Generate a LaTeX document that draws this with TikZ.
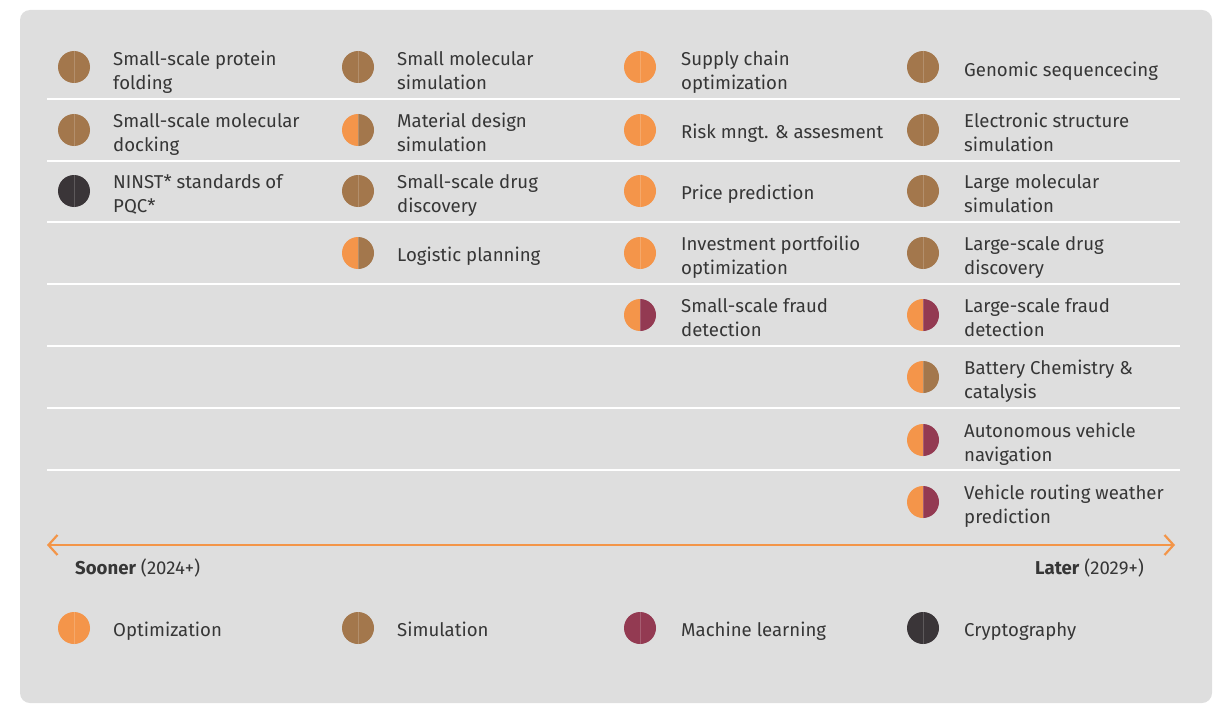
\documentclass[tikz,border=0pt]{standalone}
\usepackage{fontspec}
\setmainfont{Fira Sans}
\usetikzlibrary{arrows.meta}
\definecolor{bgc}{HTML}{DEDEDE}
\definecolor{opt}{HTML}{F4954A}
\definecolor{sim}{HTML}{A3774C}
\definecolor{ml}{HTML}{933A52}
\definecolor{cry}{HTML}{3A3538}
\definecolor{txt}{HTML}{363636}
\definecolor{arr}{HTML}{F39548}
\newcommand\qdot[4]{%
  \fill[#3] (#1,#2) -- ++(90:16pt) arc[start angle=90,end angle=270,radius=16pt] -- cycle;
  \fill[#4] (#1,#2) -- ++(90:16pt) arc[start angle=90,end angle=-90,radius=16pt] -- cycle;
  \draw[white,opacity=0.18,line width=0.7pt] (#1,#2) ++(0,-16) -- ++(0,32);
}
\newcommand\two[2]{\strut #1\\#2\strut}
\newcommand\one[1]{\strut #1}
\tikzset{
  item/.style={anchor=west,align=left,inner sep=0pt,text=txt,yshift=-2.3pt,font=\fontsize{18.6}{24}\selectfont},
  sep/.style={white,line width=2.2pt},
}
\begin{document}
\begin{tikzpicture}[x=1pt,y=-1pt]
\useasboundingbox (0,0) rectangle (1220,706);
\fill[bgc,rounded corners=10pt] (20,10) rectangle (1212,703);
\foreach \y in {99,161,222,284,346,408,470} \draw[sep] (47,\y) -- (1180,\y);
% column 1
\qdot{74}{67}{sim}{sim}
\node[item] (a1) at (113,70) {\two{Small-scale protein}{folding}};
\qdot{74}{130}{sim}{sim}
\node[item] (a2) at (113,132) {\two{Small-scale molecular}{docking}};
\qdot{74}{191}{cry}{cry}
\node[item] (a3) at (113,193) {\two{NINST* standards of}{PQC*}};
% column 2
\qdot{358}{67}{sim}{sim}
\node[item] (b1) at (397,70) {\two{Small molecular}{simulation}};
\qdot{358}{130}{opt}{sim}
\node[item] (b2) at (397,132) {\two{Material design}{simulation}};
\qdot{358}{191}{sim}{sim}
\node[item] (b3) at (397,193) {\two{Small-scale drug}{discovery}};
\qdot{358}{253}{opt}{sim}
\node[item] (b4) at (397,254) {\one{Logistic planning}};
% column 3
\qdot{640}{67}{opt}{opt}
\node[item] (c1) at (681,70) {\two{Supply chain}{optimization}};
\qdot{640}{130}{opt}{opt}
\node[item] (c2) at (681,131) {\one{Risk mngt. \& assesment}};
\qdot{640}{191}{opt}{opt}
\node[item] (c3) at (681,192) {\one{Price prediction}};
\qdot{640}{253}{opt}{opt}
\node[item] (c4) at (681,255) {\two{Investment portfoilio}{optimization}};
\qdot{640}{315}{opt}{ml}
\node[item] (c5) at (681,317) {\two{Small-scale fraud}{detection}};
% column 4
\qdot{923}{67}{sim}{sim}
\node[item] (d1) at (964,69) {\one{Genomic sequencecing}};
\qdot{923}{130}{sim}{sim}
\node[item] (d2) at (964,132) {\two{Electronic structure}{simulation}};
\qdot{923}{191}{sim}{sim}
\node[item] (d3) at (964,193) {\two{Large molecular}{simulation}};
\qdot{923}{253}{sim}{sim}
\node[item] (d4) at (964,255) {\two{Large-scale drug}{discovery}};
\qdot{923}{315}{opt}{ml}
\node[item] (d5) at (964,317) {\two{Large-scale fraud}{detection}};
\qdot{923}{377}{opt}{sim}
\node[item] (d6) at (964,379) {\two{Battery Chemistry \&}{catalysis}};
\qdot{923}{440}{opt}{ml}
\node[item] (d7) at (964,442) {\two{Autonomous vehicle}{navigation}};
\qdot{923}{502}{opt}{ml}
\node[item] (d8) at (964,504) {\two{Vehicle routing weather}{prediction}};
% timeline
\coordinate (tl) at (47,545);
\coordinate (tr) at (1175,545);
\draw[arr,line width=2.5pt,{Straight Barb[length=9pt,width=20pt,line width=2.2pt]}-{Straight Barb[length=9pt,width=20pt,line width=2.2pt]}] (tl) -- (tr);
\node[item] (soon) at (75,567) {\one{\textbf{Sooner} (2024+)}};
\node[item,anchor=east] (late) at (1144,567) {\one{\textbf{Later} (2029+)}};
% legend
\qdot{74}{628}{opt}{opt}
\node[item] (l1) at (113,629) {\one{Optimization}};
\qdot{358}{628}{sim}{sim}
\node[item] (l2) at (397,629) {\one{Simulation}};
\qdot{640}{628}{ml}{ml}
\node[item] (l3) at (681,629) {\one{Machine learning}};
\qdot{923}{628}{cry}{cry}
\node[item] (l4) at (964,629) {\one{Cryptography}};
\end{tikzpicture}
\end{document}
